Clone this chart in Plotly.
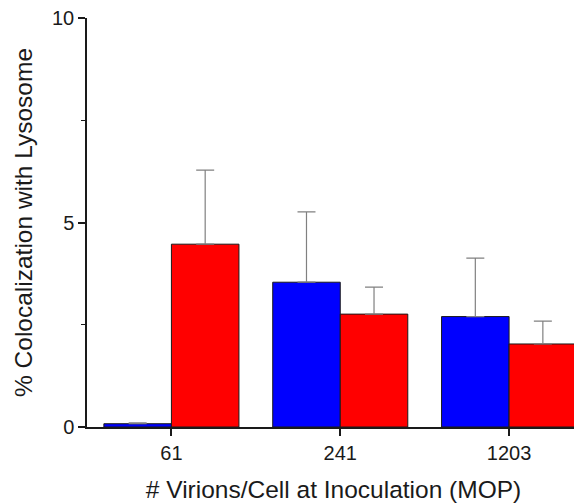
import plotly.graph_objects as go

categories = ["61", "241", "1203"]
blue_vals = [0.08, 3.54, 2.70]
blue_err = [0.02, 1.72, 1.43]
red_vals = [4.47, 2.76, 2.03]
red_err = [1.81, 0.66, 0.56]

fig = go.Figure()
fig.add_trace(go.Bar(
    x=categories, y=blue_vals, name="blue",
    marker=dict(color="#0000FF", line=dict(color="#1a1a1a", width=1)),
    error_y=dict(type="data", array=blue_err, arrayminus=[0]*3, symmetric=False,
                 color="#808080", thickness=1.2, width=9),
))
fig.add_trace(go.Bar(
    x=categories, y=red_vals, name="red",
    marker=dict(color="#FF0000", line=dict(color="#1a1a1a", width=1)),
    error_y=dict(type="data", array=red_err, arrayminus=[0]*3, symmetric=False,
                 color="#808080", thickness=1.2, width=9),
))

fig.update_layout(
    width=582, height=504,
    margin=dict(l=79, r=10, t=10, b=85),
    barmode="group", bargap=0.2, bargroupgap=0,
    showlegend=False,
    plot_bgcolor="white", paper_bgcolor="white",
    font=dict(family="Liberation Sans, Arial, sans-serif", color="#1a1a1a", size=20),
)
fig.update_xaxes(
    type="category", range=[-0.5, 2.42], automargin=False,
    showline=True, linecolor="#1a1a1a", linewidth=1.5,
    ticks="outside", ticklen=7, tickcolor="#1a1a1a", tickwidth=1.5,
    showgrid=False, zeroline=False, ticklabeloverflow="allow",
    title=dict(text="# Virions/Cell at Inoculation (MOP)", font=dict(size=24.5), standoff=18),
)
fig.update_yaxes(
    range=[0, 10], tickvals=[0, 5, 10], automargin=False,
    showline=True, linecolor="#1a1a1a", linewidth=1.5,
    ticks="outside", ticklen=7, tickcolor="#1a1a1a", tickwidth=1.5,
    minor=dict(tickvals=[2.5, 7.5], ticks="outside", ticklen=4, tickcolor="#1a1a1a", tickwidth=1),
    showgrid=False, zeroline=False, ticklabeloverflow="allow",
    title=dict(text="% Colocalization with Lysosome", font=dict(size=24.5), standoff=12),
)

fig.write_html("out.html")
